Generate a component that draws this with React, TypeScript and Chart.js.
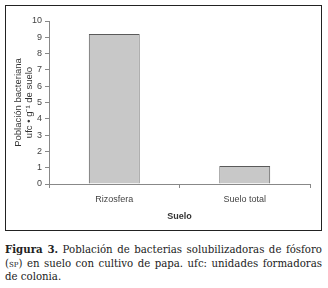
import React, { useEffect, useRef } from "react";
import { Chart, registerables } from "chart.js";

Chart.register(...registerables);

const categories = ["Rizosfera", "Suelo total"];
const values = [9.2, 1.1];
const yTitle = ["Población bacteriana", "ufc • g⁻¹ de suelo"];
const xTitle = "Suelo";

export default function App() {
  const ref = useRef<HTMLCanvasElement | null>(null);
  useEffect(() => {
    if (!ref.current) return;
    const chart = new Chart(ref.current, {
      type: "bar",
      data: {
        labels: categories,
        datasets: [
          {
            data: values,
            backgroundColor: "#c8c8c8",
            borderColor: "#5a5a5a",
            borderWidth: 1,
            categoryPercentage: 1,
            barPercentage: 0.39,
          },
        ],
      },
      options: {
        animation: false,
        responsive: false,
        maintainAspectRatio: false,
        layout: { padding: { top: 15, right: 10, left: 0, bottom: 0 } },
        plugins: { legend: { display: false }, tooltip: { enabled: false } },
        scales: {
          x: {
            grid: { display: true, drawOnChartArea: false, drawTicks: true, tickLength: 4, color: "#888", offset: true },
            border: { display: true, color: "#888" },
            ticks: { color: "#444", font: { family: "Liberation Sans", size: 9 }, padding: 6 },
            title: { display: true, text: xTitle, color: "#333", font: { family: "Liberation Sans", size: 9, weight: "bold", lineHeight: 1.2 }, padding: { top: 5, bottom: 7 } },
            afterFit: (s: any) => { s.height = 45; },
          },
          y: {
            min: 0,
            max: 10,
            grid: { display: true, drawOnChartArea: false, drawTicks: true, tickLength: 4, color: "#888" },
            border: { display: true, color: "#888" },
            ticks: { stepSize: 1, color: "#444", font: { family: "Liberation Sans", size: 9 }, padding: 3 },
            title: { display: true, text: yTitle, color: "#333", font: { family: "Liberation Sans", size: 9.5, lineHeight: 1.16 }, padding: { top: 7, bottom: 0 } },
            afterFit: (s: any) => { s.width = 43; },
          },
        },
      },
    } as any);
    return () => chart.destroy();
  }, []);
  return (
    <div style={{ position: "absolute", left: 0, top: 0, width: 328, height: 288, background: "#fff" }}>
      <div style={{ position: "absolute", left: 5, top: 5, width: 317, height: 226, border: "1px solid #222", boxSizing: "border-box" }} />
      <canvas ref={ref} width={314} height={223} style={{ position: "absolute", left: 6, top: 6, width: 314, height: 223 }} />
      <div style={{ position: "absolute", left: 5, top: 243, width: 317, fontFamily: "'DejaVu Serif', serif", fontSize: 10.2, lineHeight: "13.5px", textAlign: "justify", color: "#222" }}>
        <b>Figura 3.</b> Población de bacterias solubilizadoras de fósforo (<span style={{ fontVariant: "small-caps" }}>sp</span>) en suelo con cultivo de papa. ufc: unidades formadoras de colonia.
      </div>
    </div>
  );
}
